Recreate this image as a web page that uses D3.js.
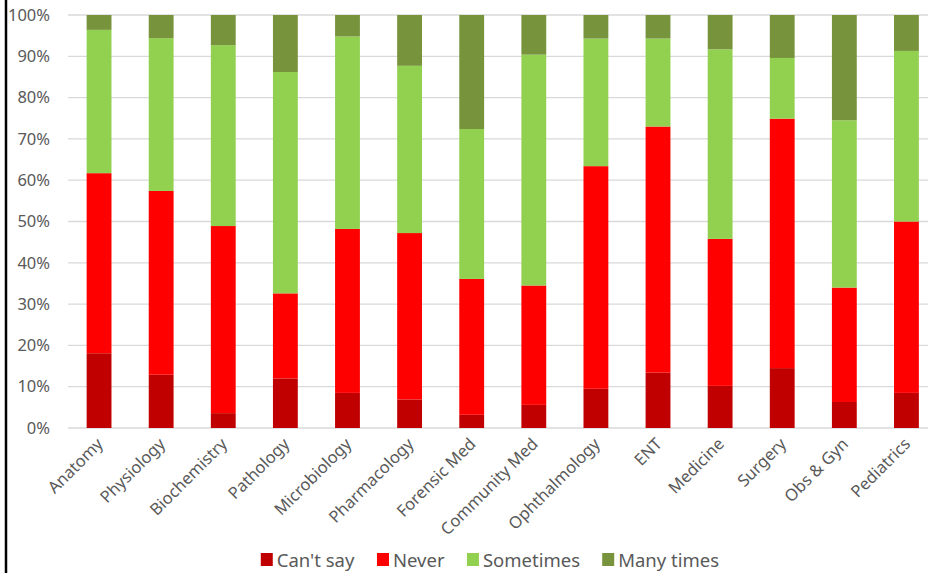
<!DOCTYPE html>
<html>
<head>
<meta charset="utf-8">
<script src="https://cdn.jsdelivr.net/npm/d3@7/dist/d3.min.js"></script>
<style>
  body { margin: 0; background: #fff; }
  svg { display: block; font-family: "Noto Sans", sans-serif; }
</style>
</head>
<body>
<svg id="chart"></svg>
<script>
// subjects along the x axis
const subjects = ['Anatomy', 'Physiology', 'Biochemistry', 'Pathology', 'Microbiology',
  'Pharmacology', 'Forensic Med', 'Community Med', 'Ophthalmology', 'ENT',
  'Medicine', 'Surgery', 'Obs & Gyn', 'Pediatrics'];

const seriesNames = ["Can't say", 'Never', 'Sometimes', 'Many times'];

// percentages
const cantSay   = [18.1, 12.9, 3.6, 12.0, 8.5, 6.9, 3.2, 5.6, 9.5, 13.4, 10.2, 14.5, 6.3, 8.5];
const never     = [43.6, 44.5, 45.3, 20.6, 39.7, 40.3, 32.9, 28.9, 53.9, 59.6, 35.6, 60.4, 27.7, 41.5];
const sometimes = [34.7, 37.0, 43.8, 53.6, 46.6, 40.5, 36.3, 55.9, 30.9, 21.3, 45.9, 14.7, 40.5, 41.3];
const manyTimes = [3.6, 5.6, 7.3, 13.8, 5.2, 12.3, 27.6, 9.6, 5.7, 5.7, 8.3, 10.4, 25.5, 8.7];

const yTicks = [0, 0.1, 0.2, 0.3, 0.4, 0.5, 0.6, 0.7, 0.8, 0.9, 1];

const colors = ['#C00000', '#FF0000', '#92D050', '#77933C'];

const width = 928, height = 573;
const margin = {top: 15, left: 68, bottom: 145};

const svg = d3.select('#chart')
    .attr('width', width)
    .attr('height', height);

// rows for the stack, normalised to 100%
const rows = subjects.map((s, i) => {
  const vals = [cantSay[i], never[i], sometimes[i], manyTimes[i]];
  const total = d3.sum(vals);
  const row = {subject: s};
  seriesNames.forEach((k, j) => row[k] = vals[j] / total);
  return row;
});

const stacked = d3.stack().keys(seriesNames)(rows);

const x = d3.scaleBand()
    .domain(subjects)
    .range([margin.left, 937.5])
    .paddingInner(0.6)
    .paddingOuter(0.3);

const y = d3.scaleLinear()
    .domain([0, 1])
    .range([height - margin.bottom, margin.top]);

// gridlines
svg.append('g')
    .selectAll('line')
    .data(yTicks)
    .join('line')
      .attr('x1', margin.left)
      .attr('x2', width)
      .attr('y1', d => y(d))
      .attr('y2', d => y(d))
      .attr('stroke', '#D9D9D9')
      .attr('stroke-width', 1.3);

// y axis labels
const yAxis = d3.axisLeft(y)
    .tickValues(yTicks)
    .tickFormat(d3.format('.0%'))
    .tickSize(0)
    .tickPadding(10);

const yAxisG = svg.append('g')
    .attr('transform', `translate(${margin.left},0)`)
    .call(yAxis);
yAxisG.select('.domain').remove();
yAxisG.selectAll('text')
    .attr('x', -18)
    .style('font-size', '16.5px')
    .style('fill', '#595959')
    .style('font-family', '"Noto Sans", sans-serif');

// bars
svg.append('g')
    .selectAll('g')
    .data(stacked)
    .join('g')
      .attr('fill', (d, i) => colors[i])
    .selectAll('rect')
    .data(d => d)
    .join('rect')
      .attr('x', d => x(d.data.subject))
      .attr('width', x.bandwidth())
      .attr('y', d => y(d[1]))
      .attr('height', d => y(d[0]) - y(d[1]));

// x axis labels, rotated
const xAxis = d3.axisBottom(x)
    .tickSize(0)
    .tickPadding(0);

const xAxisG = svg.append('g')
    .attr('transform', `translate(0,${y(0)})`)
    .call(xAxis);
xAxisG.select('.domain').remove();
xAxisG.selectAll('text')
    .attr('y', 0)
    .attr('dy', 0)
    .attr('text-anchor', 'end')
    .attr('transform', 'translate(5,17) rotate(-45)')
    .style('font-size', '16.5px')
    .style('fill', '#595959')
    .style('font-family', '"Noto Sans", sans-serif');

// legend
const legend = svg.append('g')
    .attr('transform', `translate(0,${height - 6})`);

const items = legend.selectAll('g')
    .data(seriesNames)
    .join('g');

items.append('rect')
    .attr('width', 12)
    .attr('height', 13)
    .attr('y', -14)
    .attr('fill', (d, i) => colors[i]);

items.append('text')
    .attr('x', 16)
    .attr('y', 0)
    .style('font-size', '18.5px')
    .style('fill', '#595959')
    .text(d => d);

// lay the items out in a centred row
let widths = [];
items.each(function() { widths.push(this.getBBox().width); });
const gap = 22;
const totalW = d3.sum(widths) + gap * (widths.length - 1);
let cx = 490 - totalW / 2;
items.attr('transform', (d, i) => {
  const t = `translate(${cx},0)`;
  cx += widths[i] + gap;
  return t;
});

// black frame line on the left
svg.append('line')
    .attr('x1', 6).attr('x2', 6)
    .attr('y1', 0).attr('y2', height)
    .attr('stroke', '#000')
    .attr('stroke-width', 2.5);
</script>
</body>
</html>
